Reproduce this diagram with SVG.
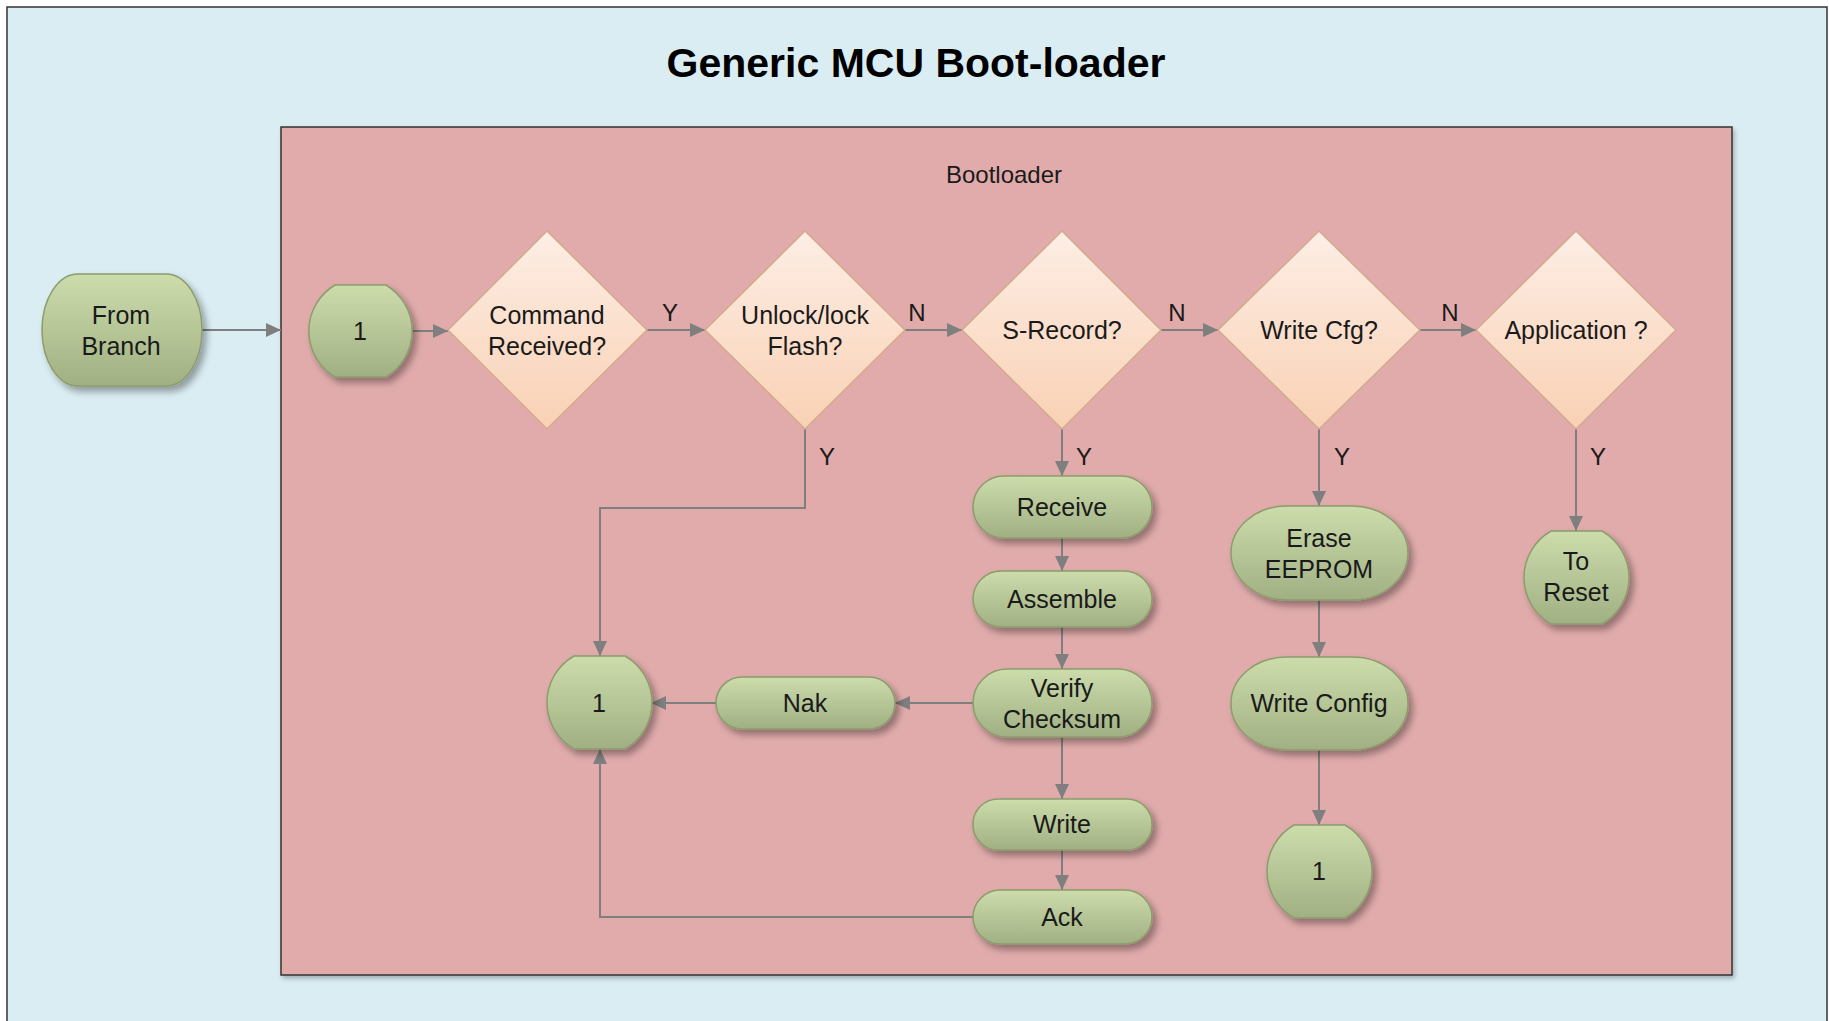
<svg xmlns="http://www.w3.org/2000/svg" width="1829" height="1021" viewBox="0 0 1829 1021">
<defs>
<linearGradient id="gGreen" x1="0" y1="0" x2="0" y2="1">
<stop offset="0" stop-color="#cddcab"/>
<stop offset="1" stop-color="#a0b083"/>
</linearGradient>
<linearGradient id="gPeach" x1="0" y1="0" x2="0" y2="1">
<stop offset="0" stop-color="#fdeee5"/>
<stop offset="1" stop-color="#f9d1b4"/>
</linearGradient>
<filter id="sh" x="-20%" y="-20%" width="150%" height="160%">
<feDropShadow dx="4" dy="5" stdDeviation="3.5" flood-color="#000" flood-opacity="0.35"/>
</filter>
<filter id="shC" x="-5%" y="-5%" width="110%" height="110%">
<feDropShadow dx="2" dy="3" stdDeviation="2" flood-color="#000" flood-opacity="0.25"/>
</filter>
<marker id="arr" markerUnits="userSpaceOnUse" markerWidth="16" markerHeight="14" refX="15" refY="7" orient="auto">
<path d="M0,0 L15,7 L0,14 Z" fill="#7f7f7f"/>
</marker>
</defs>
<style>
.t{font-family:"Liberation Sans",Arial,sans-serif;font-size:25px;fill:#1a1a1a;text-anchor:middle}
.lbl{font-family:"Liberation Sans",Arial,sans-serif;font-size:24px;fill:#1a1a1a;text-anchor:middle}
.title{font-family:"Liberation Sans",Arial,sans-serif;font-size:41px;font-weight:bold;fill:#000;text-anchor:middle}
.g{fill:url(#gGreen);stroke:#8c9c6c;stroke-width:1.5;filter:url(#sh)}
.d{fill:url(#gPeach);stroke:#d3aa8c;stroke-width:1.5}
.c{fill:none;stroke:#7f7f7f;stroke-width:2;marker-end:url(#arr)}
</style>
<rect x="0" y="0" width="1829" height="1021" fill="#ffffff"/>
<rect x="7" y="7" width="1820" height="1030" fill="#daedf3" stroke="#333" stroke-width="1.5"/>
<text class="title" x="916" y="77">Generic MCU Boot-loader</text>
<g id="bootloader">
<rect x="281" y="127" width="1451" height="848" fill="#e1abab" stroke="#333" stroke-width="1.5" filter="url(#shC)"/>
<text class="lbl" x="1004" y="183">Bootloader</text>
</g>
<g id="connectors">
<path class="c" d="M202,330 H281"/>
<path class="c" d="M412,331 H448"/>
<path class="c" d="M647,330 H705"/>
<path class="c" d="M905,330 H962"/>
<path class="c" d="M1161,330 H1218"/>
<path class="c" d="M1420,330 H1476"/>
<path class="c" d="M805,429 V508 H600 V656"/>
<path class="c" d="M1062,429 V476"/>
<path class="c" d="M1062,538 V571"/>
<path class="c" d="M1062,627 V669"/>
<path class="c" d="M973,703 H895"/>
<path class="c" d="M716,703 H651"/>
<path class="c" d="M1062,737 V799"/>
<path class="c" d="M1062,850 V890"/>
<path class="c" d="M973,917 H600 V749"/>
<path class="c" d="M1319,429 V506"/>
<path class="c" d="M1319,600 V657"/>
<path class="c" d="M1319,750 V825"/>
<path class="c" d="M1576,429 V531"/>
<text class="lbl" x="670" y="321">Y</text>
<text class="lbl" x="917" y="321">N</text>
<text class="lbl" x="1177" y="321">N</text>
<text class="lbl" x="1450" y="321">N</text>
<text class="lbl" x="827" y="465">Y</text>
<text class="lbl" x="1084" y="465">Y</text>
<text class="lbl" x="1342" y="465">Y</text>
<text class="lbl" x="1598" y="465">Y</text>
</g>
<g id="fromBranch">
<path class="g" d="M78,274 H166 A36,56 0 0 1 166,386 H78 A36,56 0 0 1 78,274 Z"/>
<text class="t" x="121" y="324">From</text>
<text class="t" x="121" y="355">Branch</text>
</g>
<g id="start1">
<path class="g" d="M335,285 H386 A53.5,53.5 0 0 1 386,377 H335 A53.5,53.5 0 0 1 335,285 Z"/>
<text class="t" x="360" y="340">1</text>
</g>
<g id="cmdReceived">
<polygon class="d" points="547,231 647,330 547,429 448,330"/>
<text class="t" x="547" y="324">Command</text>
<text class="t" x="547" y="355">Received?</text>
</g>
<g id="unlockFlash">
<polygon class="d" points="805,231 905,330 805,429 705,330"/>
<text class="t" x="805" y="324">Unlock/lock</text>
<text class="t" x="805" y="355">Flash?</text>
</g>
<g id="sRecord">
<polygon class="d" points="1062,231 1161,330 1062,429 962,330"/>
<text class="t" x="1062" y="339">S-Record?</text>
</g>
<g id="writeCfg">
<polygon class="d" points="1319,231 1420,330 1319,429 1218,330"/>
<text class="t" x="1319" y="339">Write Cfg?</text>
</g>
<g id="application">
<polygon class="d" points="1576,231 1676,330 1576,429 1476,330"/>
<text class="t" x="1576" y="339">Application ?</text>
</g>
<g id="receive">
<rect class="g" x="973" y="476" width="179" height="62" rx="31" ry="31"/>
<text class="t" x="1062" y="516">Receive</text>
</g>
<g id="assemble">
<rect class="g" x="973" y="571" width="179" height="56" rx="28" ry="28"/>
<text class="t" x="1062" y="608">Assemble</text>
</g>
<g id="verify">
<rect class="g" x="973" y="669" width="179" height="68" rx="34" ry="34"/>
<text class="t" x="1062" y="697">Verify</text>
<text class="t" x="1062" y="728">Checksum</text>
</g>
<g id="nak">
<rect class="g" x="716" y="677" width="179" height="52" rx="26" ry="26"/>
<text class="t" x="805" y="712">Nak</text>
</g>
<g id="write">
<rect class="g" x="973" y="799" width="179" height="51" rx="25" ry="25"/>
<text class="t" x="1062" y="833">Write</text>
</g>
<g id="ack">
<rect class="g" x="973" y="890" width="179" height="54" rx="27" ry="27"/>
<text class="t" x="1062" y="926">Ack</text>
</g>
<g id="connector1a">
<path class="g" d="M574,656 H625 A53.5,53.5 0 0 1 625,749 H574 A53.5,53.5 0 0 1 574,656 Z"/>
<text class="t" x="599" y="712">1</text>
</g>
<g id="eraseEeprom">
<rect class="g" x="1231" y="506" width="177" height="94" rx="56" ry="47"/>
<text class="t" x="1319" y="547">Erase</text>
<text class="t" x="1319" y="578">EEPROM</text>
</g>
<g id="writeConfig">
<rect class="g" x="1231" y="657" width="177" height="93" rx="56" ry="46"/>
<text class="t" x="1319" y="712">Write Config</text>
</g>
<g id="connector1b">
<path class="g" d="M1294,825 H1345 A53.5,53.5 0 0 1 1345,918 H1294 A53.5,53.5 0 0 1 1294,825 Z"/>
<text class="t" x="1319" y="880">1</text>
</g>
<g id="toReset">
<path class="g" d="M1551,531 H1602 A53.5,53.5 0 0 1 1602,624 H1551 A53.5,53.5 0 0 1 1551,531 Z"/>
<text class="t" x="1576" y="570">To</text>
<text class="t" x="1576" y="601">Reset</text>
</g>
</svg>
